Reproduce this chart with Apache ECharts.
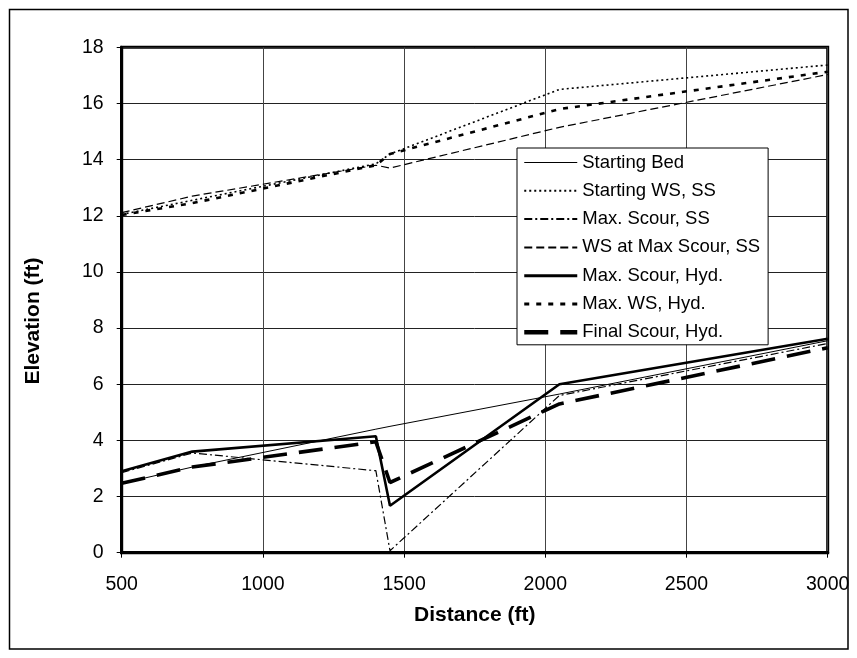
<!DOCTYPE html>
<html>
<head>
<meta charset="utf-8">
<script src="https://cdn.jsdelivr.net/npm/echarts@6/dist/echarts.min.js"></script>
<style>html,body{margin:0;padding:0;background:#fff;}#c{width:857px;height:658px;}</style>
</head>
<body>
<div id="c"></div>
<script>
const distance = [500, 750, 1400, 1450, 2050, 3000];
const startingBed = [2.47, 3.05, 4.4, 4.5, 5.65, 7.55];
const startingWS = [12.05, 12.55, 13.85, 14.2, 16.5, 17.37];
const maxScourSS = [2.85, 3.55, 2.92, 0.07, 5.6, 7.45];
const wsMaxScourSS = [12.11, 12.7, 13.8, 13.7, 15.15, 17.03];
const maxScourHyd = [2.9, 3.6, 4.15, 1.67, 6.0, 7.62];
const maxWSHyd = [12.03, 12.45, 13.8, 14.2, 15.8, 17.13];
const finalScourHyd = [2.47, 3.05, 3.95, 2.5, 5.3, 7.3];
const seriesNames = ['Starting Bed', 'Starting WS, SS', 'Max. Scour, SS', 'WS at Max Scour, SS', 'Max. Scour, Hyd.', 'Max. WS, Hyd.', 'Final Scour, Hyd.'];
const xTicks = [500, 1000, 1500, 2000, 2500, 3000];
const yTicks = [0, 2, 4, 6, 8, 10, 12, 14, 16, 18];

const FONT = "'Liberation Sans', Arial, sans-serif";
const pair = arr => distance.map((d, i) => [d, arr[i]]);
const styles = [
  {width: 1, type: 'solid', legendWidth: 1},
  {width: 1.6, type: [2, 3], legendWidth: 2},
  {width: 1.2, type: [8, 3, 2, 3], legendWidth: 2},
  {width: 1.2, type: [8, 4], legendWidth: 2},
  {width: 2.6, type: 'solid', legendWidth: 3},
  {width: 2.6, type: [5, 7], legendWidth: 3},
  {width: 3.6, type: [24, 12], legendWidth: 4.5}
];
const dataSets = [startingBed, startingWS, maxScourSS, wsMaxScourSS, maxScourHyd, maxWSHyd, finalScourHyd];

const chart = echarts.init(document.getElementById('c'), null, {renderer: 'canvas'});
chart.setOption({
  animation: false,
  backgroundColor: '#fff',
  textStyle: {fontFamily: FONT},
  graphic: [{
    type: 'rect', shape: {x: 9.5, y: 9.5, width: 838.5, height: 639.5},
    style: {fill: 'none', stroke: '#000', lineWidth: 1.5}, z: 0
  }],
  grid: {left: 121.7, right: 29.3, top: 47.3, bottom: 105.3, show: true, borderColor: '#000', borderWidth: 3, backgroundColor: 'transparent'},
  legend: {
    orient: 'vertical', left: 517, top: 148,
    backgroundColor: '#fff', borderColor: '#000', borderWidth: 1,
    padding: [5, 8, 3, 5],
    itemWidth: 53, itemHeight: 14, itemGap: 9.3,
    itemStyle: {opacity: 0},
    textStyle: {fontFamily: FONT, fontSize: 18.5, color: '#000', lineHeight: 19},
    data: seriesNames.map((n, i) => ({name: n, lineStyle: {width: styles[i].legendWidth, type: styles[i].type, color: '#000'}}))
  },
  xAxis: {
    type: 'value', min: 500, max: 3000, interval: 500,
    name: 'Distance (ft)', nameLocation: 'middle', nameGap: 52,
    nameTextStyle: {fontFamily: FONT, fontSize: 21, fontWeight: 'bold', color: '#000'},
    axisLine: {lineStyle: {color: '#000', width: 3}},
    axisTick: {show: true, inside: false, length: 5, lineStyle: {color: '#000', width: 1}},
    axisLabel: {fontFamily: FONT, fontSize: 19.5, color: '#000', margin: 22, formatter: v => String(v)},
    splitLine: {show: true, lineStyle: {color: '#444', width: 1}}
  },
  yAxis: {
    type: 'value', min: 0, max: 18, interval: 2,
    name: 'Elevation (ft)', nameLocation: 'middle', nameGap: 78,
    nameTextStyle: {fontFamily: FONT, fontSize: 21, fontWeight: 'bold', color: '#000', padding: [0, 42, 0, 0]},
    axisLine: {show: true, lineStyle: {color: '#000', width: 3}},
    axisTick: {show: true, inside: false, length: 5, lineStyle: {color: '#000', width: 1}},
    axisLabel: {fontFamily: FONT, fontSize: 19.5, color: '#000', margin: 18, formatter: v => String(v)},
    splitLine: {show: true, lineStyle: {color: '#222', width: 1}}
  },
  series: seriesNames.map((n, i) => ({
    name: n, type: 'line', data: pair(dataSets[i]),
    symbol: 'none', showSymbol: false, smooth: false,
    lineStyle: {color: '#000', width: styles[i].width, type: styles[i].type},
    itemStyle: {color: '#000'},
    emphasis: {disabled: true}, z: 3
  }))
});
</script>
</body>
</html>
